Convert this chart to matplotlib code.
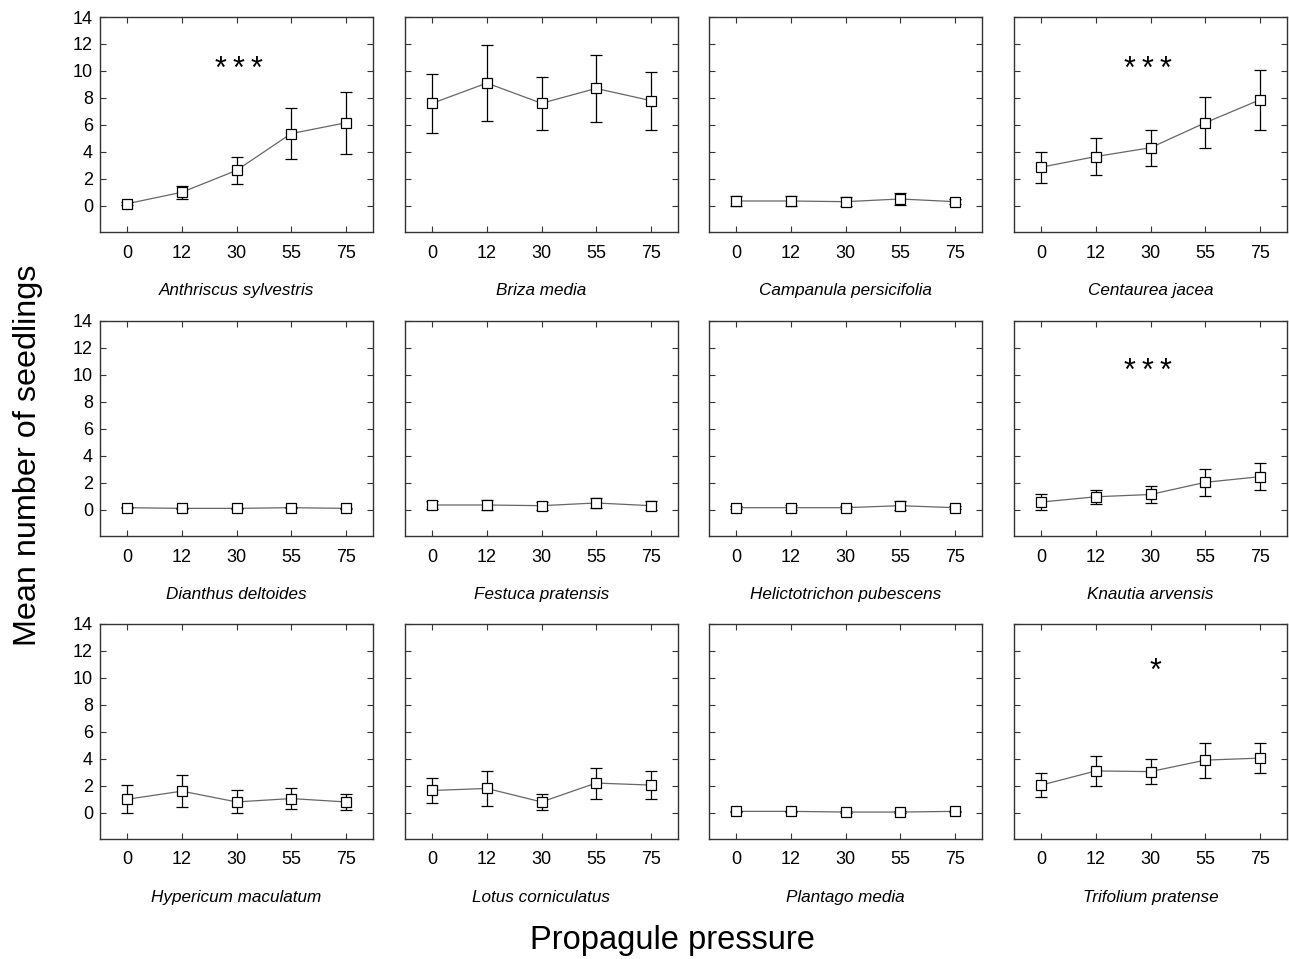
import matplotlib
matplotlib.use("Agg")
import matplotlib.pyplot as plt
import numpy as np

plt.rcParams['font.family'] = ['Liberation Sans', 'DejaVu Sans']

doses = ["0", "12", "30", "55", "75"]

species = ["Anthriscus sylvestris", "Briza media", "Campanula persicifolia", "Centaurea jacea",
           "Dianthus deltoides", "Festuca pratensis", "Helictotrichon pubescens", "Knautia arvensis",
           "Hypericum maculatum", "Lotus corniculatus", "Plantago media", "Trifolium pratense"]

anthriscus_mean = [0.15, 1.0, 2.62, 5.35, 6.15]
anthriscus_err = [0.1, 0.47, 1.0, 1.9, 2.3]
briza_mean = [7.6, 9.1, 7.6, 8.7, 7.8]
briza_err = [2.2, 2.8, 1.95, 2.5, 2.15]
campanula_mean = [0.35, 0.35, 0.3, 0.5, 0.3]
campanula_err = [0.4, 0.35, 0.35, 0.45, 0.2]
centaurea_mean = [2.86, 3.65, 4.3, 6.15, 7.85]
centaurea_err = [1.15, 1.4, 1.35, 1.9, 2.2]
dianthus_mean = [0.15, 0.1, 0.1, 0.15, 0.1]
dianthus_err = [0.05, 0.05, 0.05, 0.05, 0.05]
festuca_mean = [0.35, 0.35, 0.3, 0.5, 0.3]
festuca_err = [0.3, 0.4, 0.3, 0.35, 0.35]
helictotrichon_mean = [0.15, 0.15, 0.15, 0.3, 0.15]
helictotrichon_err = [0.1, 0.2, 0.1, 0.35, 0.1]
knautia_mean = [0.57, 0.96, 1.13, 2.03, 2.45]
knautia_err = [0.58, 0.5, 0.6, 0.98, 0.98]
hypericum_mean = [1.0, 1.6, 0.8, 1.05, 0.8]
hypericum_err = [1.05, 1.2, 0.85, 0.75, 0.6]
lotus_mean = [1.65, 1.8, 0.8, 2.2, 2.05]
lotus_err = [0.95, 1.3, 0.6, 1.15, 1.05]
plantago_mean = [0.1, 0.1, 0.05, 0.05, 0.1]
plantago_err = [0.05, 0.05, 0.05, 0.05, 0.05]
trifolium_mean = [2.05, 3.1, 3.05, 3.9, 4.05]
trifolium_err = [0.9, 1.1, 0.95, 1.3, 1.1]

means = [anthriscus_mean, briza_mean, campanula_mean, centaurea_mean,
         dianthus_mean, festuca_mean, helictotrichon_mean, knautia_mean,
         hypericum_mean, lotus_mean, plantago_mean, trifolium_mean]
errs = [anthriscus_err, briza_err, campanula_err, centaurea_err,
        dianthus_err, festuca_err, helictotrichon_err, knautia_err,
        hypericum_err, lotus_err, plantago_err, trifolium_err]

significance = {0: "*\u2009*\u2009*", 3: "*\u2009*\u2009*",
                7: "*\u2009*\u2009*", 11: "*"}
sig_pos = {0: (2.05, 10.1), 3: (1.95, 10.1), 7: (1.95, 10.25), 11: (2.1, 10.45)}

W, H = 1289, 959
fig = plt.figure(figsize=(W / 100, H / 100), dpi=100)
fig.patch.set_facecolor("white")

col_left = [100, 405, 709, 1014]
row_top = [17, 321, 624]
aw, ah = 273, 215

x = np.arange(len(doses))
for i, name in enumerate(species):
    r, c = divmod(i, 4)
    left = col_left[c] / W
    bottom = 1 - (row_top[r] + ah) / H
    ax = fig.add_axes([left, bottom, aw / W, ah / H])
    ax.plot(x, means[i], color="#666666", lw=0.9, zorder=2)
    ax.errorbar(x, means[i], yerr=errs[i], fmt="none", ecolor="black",
                elinewidth=0.9, capsize=4, capthick=0.9, zorder=3)
    ax.plot(x, means[i], ls="none", marker="s", ms=7.8, mfc="white",
            mec="black", mew=0.9, zorder=4)
    ax.set_xlim(-0.5, 4.5)
    ax.set_ylim(-1.95, 14)
    ax.set_xticks(x)
    ax.set_xticklabels(doses, fontsize=13)
    ax.set_yticks(np.arange(0, 15, 2))
    ax.tick_params(direction="in", length=4, width=0.8, top=True, right=True,
                   color="#333333")
    ax.tick_params(axis="x", pad=9)
    ax.tick_params(axis="y", pad=5, labelsize=13)
    if c != 0:
        ax.set_yticklabels([])
    for s in ax.spines.values():
        s.set_linewidth(1.0)
        s.set_color("#333333")
    ax.text(0.5, -63 / ah, name, transform=ax.transAxes, ha="center",
            va="baseline", fontsize=12.3, style="italic")
    if i in significance:
        sx, sy = sig_pos[i]
        ax.text(sx, sy, significance[i], ha="center", va="center",
                fontsize=22)

fig.text(28 / W, 1 - 455 / H, "Mean number of seedlings", rotation=90,
         ha="center", va="center", fontsize=23.3)
fig.text(672 / W, 1 - 940 / H, "Propagule pressure", ha="center",
         va="center", fontsize=23.5)

fig.savefig("out.png", dpi=100, facecolor="white")
